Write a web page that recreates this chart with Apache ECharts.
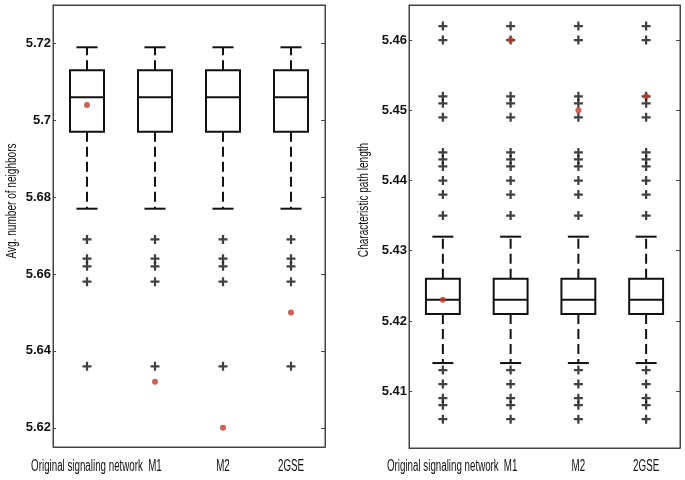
<!DOCTYPE html>
<html>
<head>
<meta charset="utf-8">
<script src="https://cdn.jsdelivr.net/npm/echarts@6/dist/echarts.min.js"></script>
<style>
html,body{margin:0;padding:0;background:#fff;}
#c{width:685px;height:480px;}
</style>
</head>
<body>
<div id="c"></div>
<script>
const categories = ['Original signaling network', 'M1', 'M2', '2GSE'];
const yTitles = ['Avg. number of neighbors', 'Characteristic path length'];

// [lower whisker, Q1, median, Q3, upper whisker]
const neighborsBoxStats = [
  [5.677, 5.697, 5.706, 5.713, 5.719],
  [5.677, 5.697, 5.706, 5.713, 5.719],
  [5.677, 5.697, 5.706, 5.713, 5.719],
  [5.677, 5.697, 5.706, 5.713, 5.719]
];
const neighborsOutliers = [5.669, 5.664, 5.662, 5.658, 5.636];
const neighborsObserved = [5.704, 5.632, 5.620, 5.650];

const pathBoxStats = [
  [5.414, 5.421, 5.423, 5.426, 5.432],
  [5.414, 5.421, 5.423, 5.426, 5.432],
  [5.414, 5.421, 5.423, 5.426, 5.432],
  [5.414, 5.421, 5.423, 5.426, 5.432]
];
const pathOutliers = [5.462, 5.460, 5.452, 5.451, 5.449, 5.444, 5.443, 5.442, 5.440, 5.438, 5.435,
                      5.413, 5.411, 5.409, 5.408, 5.406];
const pathObserved = [5.423, 5.460, 5.450, 5.452];

const neighborsRange = [5.615, 5.730];
const pathRange = [5.4019, 5.465];

const FONT = '"Liberation Sans", Arial, sans-serif';
const PLUS = 'path://M3,0h2v3h3v2h-3v3h-2v-3h-3v-2h3z';

function boxData(stats) {
  return stats.map((s, i) => [i].concat(s));
}
function outlierData(vals) {
  const out = [];
  categories.forEach((c, i) => vals.forEach(v => out.push([i, v])));
  return out;
}
function observedData(vals) {
  return vals.map((v, i) => [i, v]);
}

function renderBox(params, api) {
  const x = api.value(0);
  const lo = api.coord([x, api.value(1)]);
  const q1 = api.coord([x, api.value(2)]);
  const md = api.coord([x, api.value(3)]);
  const q3 = api.coord([x, api.value(4)]);
  const hi = api.coord([x, api.value(5)]);
  const band = api.size([1, 0])[0];
  const bw = band * 0.5;
  const cw = band * 0.31;
  const cx = lo[0];
  const solid = {stroke: '#111', lineWidth: 2, fill: null};
  const dashed = {stroke: '#111', lineWidth: 2, lineDash: [10, 5], fill: null};
  return {
    type: 'group',
    children: [
      {type: 'line', shape: {x1: cx, y1: q3[1], x2: cx, y2: hi[1]}, style: dashed},
      {type: 'line', shape: {x1: cx, y1: q1[1], x2: cx, y2: lo[1]}, style: dashed},
      {type: 'line', shape: {x1: cx - cw / 2, y1: hi[1], x2: cx + cw / 2, y2: hi[1]}, style: solid},
      {type: 'line', shape: {x1: cx - cw / 2, y1: lo[1], x2: cx + cw / 2, y2: lo[1]}, style: solid},
      {type: 'rect', shape: {x: cx - bw / 2, y: q3[1], width: bw, height: q1[1] - q3[1]},
        style: {stroke: '#111', lineWidth: 2, fill: '#fff'}},
      {type: 'line', shape: {x1: cx - bw / 2, y1: md[1], x2: cx + bw / 2, y2: md[1]}, style: solid}
    ]
  };
}

function yAxes(gridIndex, range, splitNumber) {
  return [
    {
      type: 'value', gridIndex: gridIndex, min: range[0], max: range[1], splitNumber: splitNumber,
      axisLine: {show: true, lineStyle: {color: '#444', width: 1}},
      axisTick: {show: true, inside: true, length: 3, lineStyle: {color: '#444'}},
      axisLabel: {fontFamily: FONT, fontSize: 13, fontWeight: 'bold', color: '#111', margin: 2,
        showMinLabel: false, showMaxLabel: false},
      splitLine: {show: false}
    },
    {
      type: 'value', gridIndex: gridIndex, min: range[0], max: range[1], splitNumber: splitNumber,
      position: 'right',
      axisLine: {show: true, lineStyle: {color: '#444', width: 1}},
      axisTick: {show: true, inside: true, length: 4, lineStyle: {color: '#444'}},
      axisLabel: {show: false},
      splitLine: {show: false}
    }
  ];
}

function xAxis(gridIndex) {
  return {
    type: 'category', gridIndex: gridIndex, data: categories, boundaryGap: true,
    axisLine: {show: true, lineStyle: {color: '#444', width: 1}},
    axisTick: {show: false},
    axisLabel: {show: false}
  };
}

const chart = echarts.init(document.getElementById('c'), null, {renderer: 'canvas'});
const ya = yAxes(0, neighborsRange, 5);
const yb = yAxes(1, pathRange, 6);

chart.setOption({
  animation: false,
  backgroundColor: '#fff',
  grid: [
    {left: 53, right: 360, top: 5, bottom: 33, show: true, borderColor: '#444', borderWidth: 1},
    {left: 409, right: 5, top: 5, bottom: 32, show: true, borderColor: '#444', borderWidth: 1}
  ],
  xAxis: [xAxis(0), xAxis(1),
    {type: 'category', gridIndex: 0, data: categories, position: 'top', axisLine: {show: true, lineStyle: {color: '#444'}}, axisTick: {show: false}, axisLabel: {show: false}},
    {type: 'category', gridIndex: 1, data: categories, position: 'top', axisLine: {show: true, lineStyle: {color: '#444'}}, axisTick: {show: false}, axisLabel: {show: false}}
  ],
  yAxis: ya.concat(yb),
  series: [
    {type: 'custom', xAxisIndex: 0, yAxisIndex: 0, renderItem: renderBox, data: boxData(neighborsBoxStats), z: 2},
    {type: 'scatter', xAxisIndex: 0, yAxisIndex: 0, symbol: PLUS, symbolSize: 9,
      itemStyle: {color: '#111'}, data: outlierData(neighborsOutliers), z: 3},
    {type: 'scatter', xAxisIndex: 0, yAxisIndex: 0, symbol: 'circle', symbolSize: 6,
      itemStyle: {color: '#c0392b'}, data: observedData(neighborsObserved), z: 4},
    {type: 'custom', xAxisIndex: 1, yAxisIndex: 2, renderItem: renderBox, data: boxData(pathBoxStats), z: 2},
    {type: 'scatter', xAxisIndex: 1, yAxisIndex: 2, symbol: PLUS, symbolSize: 9,
      itemStyle: {color: '#111'}, data: outlierData(pathOutliers), z: 3},
    {type: 'scatter', xAxisIndex: 1, yAxisIndex: 2, symbol: 'circle', symbolSize: 6,
      itemStyle: {color: '#c0392b'}, data: observedData(pathObserved), z: 4}
  ]
});

// Condensed-looking text (no narrow font installed): real text, horizontally scaled.
const graphics = [];
[0, 1].forEach(gi => {
  categories.forEach((name, i) => {
    const x = chart.convertToPixel({xAxisIndex: gi}, i);
    graphics.push({
      type: 'text', x: x, y: 467, scaleX: 0.61, scaleY: 1,
      style: {text: name, font: '16px ' + FONT, fill: '#111', textAlign: 'center', textVerticalAlign: 'middle'}
    });
  });
});
const titlePos = [[12, 201], [364, 200]];
yTitles.forEach((t, i) => {
  graphics.push({
    type: 'text', x: titlePos[i][0], y: titlePos[i][1], rotation: Math.PI / 2, scaleX: 0.72, scaleY: 1,
    style: {text: t, font: '14px ' + FONT, fill: '#111', textAlign: 'center', textVerticalAlign: 'middle'}
  });
});
chart.setOption({graphic: graphics});
</script>
</body>
</html>
